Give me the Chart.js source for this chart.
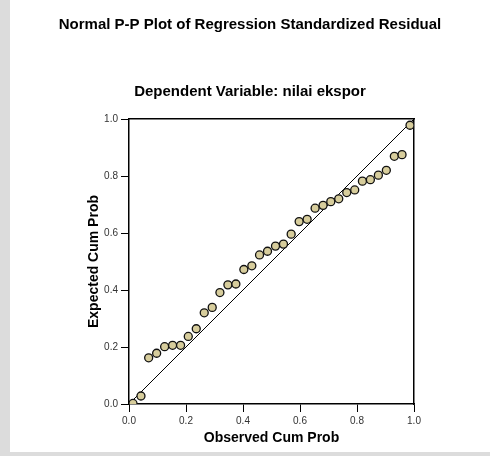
<!DOCTYPE html>
<html>
<head>
<meta charset="utf-8">
<script src="https://cdn.jsdelivr.net/npm/chart.js@4.4.1/dist/chart.umd.min.js"></script>
<style>
  html, body { margin: 0; padding: 0; }
  body { width: 490px; height: 456px; background: #dcdcdc; position: relative; overflow: hidden; }
  #panel { position: absolute; left: 10px; top: 0; width: 480px; height: 452px; background: #fff; }
  #ppChart { position: absolute; left: 10px; top: 0; }
</style>
</head>
<body>
<div id="panel"></div>
<canvas id="ppChart" width="480" height="456"></canvas>
<script>
// observed cumulative probability (x) for each residual
const observedCumProb = [
  0.014, 0.042, 0.069, 0.097, 0.125, 0.153, 0.181, 0.208, 0.236, 0.264,
  0.292, 0.319, 0.347, 0.375, 0.403, 0.431, 0.458, 0.486, 0.514, 0.542,
  0.569, 0.597, 0.625, 0.653, 0.681, 0.708, 0.736, 0.764, 0.792, 0.819,
  0.847, 0.875, 0.903, 0.931, 0.958, 0.986
];
// expected cumulative probability (y)
const expectedCumProb = [
  0.002, 0.028, 0.162, 0.178, 0.201, 0.206, 0.206, 0.237, 0.264, 0.320,
  0.339, 0.391, 0.418, 0.421, 0.472, 0.485, 0.523, 0.536, 0.554, 0.561,
  0.596, 0.640, 0.648, 0.687, 0.697, 0.710, 0.720, 0.742, 0.751, 0.782,
  0.787, 0.803, 0.820, 0.869, 0.875, 0.978
];
// reference diagonal
const diagonalX = [0, 1];
const diagonalY = [0, 1];
const tickLabels = ['0.0', '0.2', '0.4', '0.6', '0.8', '1.0'];

const fontFamily = "'Liberation Sans', Arial, sans-serif";

let points = [];
for (let i = 0; i < observedCumProb.length; i++) {
  points.push({ x: observedCumProb[i], y: expectedCumProb[i] });
}
let diagonal = [];
for (let i = 0; i < diagonalX.length; i++) {
  diagonal.push({ x: diagonalX[i], y: diagonalY[i] });
}

function tickLabel(value) {
  let idx = Math.round(value / 0.2);
  return tickLabels[idx];
}

new Chart(document.getElementById('ppChart'), {
  type: 'scatter',
  data: {
    datasets: [{
      data: points,
      pointRadius: 4,
      pointHoverRadius: 4,
      pointBackgroundColor: '#d7cd9c',
      pointBorderColor: '#111',
      pointBorderWidth: 1.3
    }, {
      type: 'line',
      data: diagonal,
      borderColor: '#000',
      borderWidth: 1,
      pointRadius: 0,
      fill: false
    }]
  },
  options: {
    responsive: false,
    animation: false,
    devicePixelRatio: 1,
    layout: { padding: 0 },
    plugins: {
      legend: { display: false },
      tooltip: { enabled: false },
      title: {
        display: true,
        text: 'Normal P-P Plot of Regression Standardized Residual',
        color: '#000',
        font: { family: fontFamily, size: 15, weight: 'bold' },
        padding: { top: 16, bottom: 49 }
      },
      subtitle: {
        display: true,
        text: 'Dependent Variable: nilai ekspor',
        color: '#000',
        font: { family: fontFamily, size: 15, weight: 'bold' },
        padding: { top: 0, bottom: 18 }
      }
    },
    scales: {
      x: {
        type: 'linear',
        position: 'bottom',
        min: 0,
        max: 1,
        afterFit: function(scale) { scale.height = 52; },
        ticks: {
          stepSize: 0.2,
          padding: 3,
          color: '#333',
          font: { family: fontFamily, size: 10 },
          callback: tickLabel
        },
        grid: { drawOnChartArea: false, drawTicks: true, tickLength: 8, color: '#000', lineWidth: 1 },
        border: { display: true, color: '#000', width: 1.5 },
        title: {
          display: true,
          text: 'Observed Cum Prob',
          color: '#000',
          font: { family: fontFamily, size: 14, weight: 'bold' },
          padding: { top: 0, bottom: 9.6 }
        }
      },
      y: {
        type: 'linear',
        position: 'left',
        min: 0,
        max: 1,
        afterFit: function(scale) { scale.width = 119; },
        ticks: {
          stepSize: 0.2,
          padding: 3,
          color: '#333',
          font: { family: fontFamily, size: 10 },
          callback: tickLabel
        },
        grid: { drawOnChartArea: false, drawTicks: true, tickLength: 8, color: '#000', lineWidth: 1 },
        border: { display: true, color: '#000', width: 1.5 },
        title: {
          display: true,
          text: 'Expected Cum Prob',
          color: '#000',
          font: { family: fontFamily, size: 14, weight: 'bold' },
          padding: { top: 75.6, bottom: 0 }
        }
      },
      // top and right frame lines
      x2: {
        type: 'linear',
        position: 'top',
        min: 0,
        max: 1,
        afterFit: function(scale) { scale.height = 0; },
        ticks: { display: false },
        grid: { display: false },
        border: { display: true, color: '#000', width: 1.5 }
      },
      y2: {
        type: 'linear',
        position: 'right',
        min: 0,
        max: 1,
        afterFit: function(scale) { scale.width = 76; },
        ticks: { display: false },
        grid: { display: false },
        border: { display: true, color: '#000', width: 1.5 }
      }
    }
  }
});
</script>
</body>
</html>
